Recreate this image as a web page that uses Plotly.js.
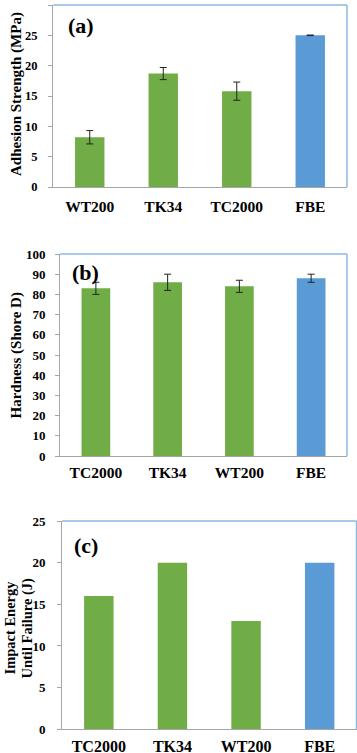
<!DOCTYPE html>
<html>
<head>
<meta charset="utf-8">
<script src="https://cdn.plot.ly/plotly-3.0.1.min.js"></script>
<style>
  html, body { margin: 0; padding: 0; background: #ffffff; }
  #chart { width: 357px; height: 753px; }
</style>
</head>
<body>
<div id="chart"></div>
<script>
(function () {
  "use strict";

  // (a) adhesion strength
  const catsA = ["WT200", "TK34", "TC2000", "FBE"];
  const adhesion = [8.2, 18.7, 15.8, 25.0];
  const adhesionErr = [1.1, 1.0, 1.5, 0.05];

  // (b) hardness
  const catsB = ["TC2000", "TK34", "WT200", "FBE"];
  const hardness = [83, 86, 84, 88];
  const hardnessErr = [3, 4, 3, 2];

  // (c) impact energy
  const catsC = ["TC2000", "TK34", "WT200", "FBE"];
  const impact = [16, 20, 13, 20];

  const GREEN = "#70ad47";
  const BLUE = "#5b9bd5";
  const AXIS = "#a6a6a6";
  const FRAME = "#8cb8e4";
  const SERIF = "Liberation Serif";

  const barColors = (cats) => cats.map((c) => (c === "FBE" ? BLUE : GREEN));

  function bars(cats, vals, errs, xa, ya) {
    const t = {
      type: "bar",
      x: cats,
      y: vals,
      xaxis: xa,
      yaxis: ya,
      width: 0.4,
      marker: { color: barColors(cats), line: { width: 0 } },
      hoverinfo: "x+y",
    };
    if (errs) {
      t.error_y = { type: "data", array: errs, visible: true, color: "#222222", thickness: 1, width: 3.5 };
    }
    return t;
  }

  const data = [
    bars(catsA, adhesion, adhesionErr, "x", "y"),
    bars(catsB, hardness, hardnessErr, "x2", "y2"),
    bars(catsC, impact, null, "x3", "y3"),
  ];

  function xAxis(domain, anchor, size, standoff) {
    return {
      domain: domain,
      anchor: anchor,
      showline: true,
      linecolor: AXIS,
      linewidth: 1,
      ticks: "",
      ticklabelstandoff: standoff,
      tickfont: { family: SERIF, size: size, color: "#000000", weight: "bold" },
      showgrid: false,
      zeroline: false,
      automargin: false,
      fixedrange: true,
    };
  }

  function yAxis(domain, anchor, range, dtick, size, standoff) {
    return {
      domain: domain,
      anchor: anchor,
      range: range,
      dtick: dtick,
      showline: true,
      linecolor: AXIS,
      linewidth: 1,
      ticks: "outside",
      ticklen: 4,
      tickcolor: AXIS,
      ticklabelstandoff: standoff,
      tickfont: { family: SERIF, size: size, color: "#000000", weight: "bold" },
      showgrid: false,
      zeroline: false,
      automargin: false,
      fixedrange: true,
    };
  }

  function frame(xd, yd) {
    return [
      { type: "line", xref: xd, yref: yd, x0: 0, x1: 1, y0: 1, y1: 1, line: { color: FRAME, width: 1.5 } },
      { type: "line", xref: xd, yref: yd, x0: 1, x1: 1, y0: 0, y1: 1, line: { color: FRAME, width: 1.5 } },
    ];
  }

  function label(text, x, y, size) {
    return {
      text: text, xref: "paper", yref: "paper", x: x / 357, y: 1 - y / 753,
      xanchor: "center", yanchor: "middle", showarrow: false,
      font: { family: SERIF, size: size, color: "#000000", weight: "bold" },
    };
  }

  function yTitle(text, x, y, size) {
    const a = label(text, x, y, size || 15);
    a.textangle = -90;
    a.borderpad = 0;
    return a;
  }

  const layout = {
    width: 357,
    height: 753,
    paper_bgcolor: "#ffffff",
    plot_bgcolor: "#ffffff",
    font: { family: SERIF },
    margin: { l: 0, r: 0, t: 0, b: 0 },
    showlegend: false,
    bargap: 0.6,
    xaxis: xAxis([53 / 357, 347 / 357], "y", 15.5, 5),
    yaxis: yAxis([1 - 187 / 753, 1 - 5 / 753], "x", [0, 30], 5, 12.5, 8),
    xaxis2: xAxis([60 / 357, 347 / 357], "y2", 15.5, 2),
    yaxis2: yAxis([1 - 456 / 753, 1 - 254 / 753], "x2", [0, 100], 10, 13, 7),
    xaxis3: xAxis([62 / 357, 356.5 / 357], "y3", 16, 2),
    yaxis3: yAxis([1 - 729.3 / 753, 1 - 521 / 753], "x3", [0, 25], 5, 13, 9),
    shapes: [].concat(frame("x domain", "y domain"), frame("x2 domain", "y2 domain"), frame("x3 domain", "y3 domain")),
    annotations: [
      label("(a)", 81, 26, 22),
      label("(b)", 85, 272, 22),
      label("(c)", 85.5, 545, 22),
      yTitle("Adhesion Strength (MPa)", 16, 94),
      yTitle("Hardness (Shore D)", 16, 355.5),
      yTitle("Impact Energy", 9.5, 628, 14.5),
      yTitle("Until Failure (J)", 26.5, 628, 14.5),
    ],
  };

  Plotly.newPlot("chart", data, layout, { displayModeBar: false, staticPlot: true });
})();
</script>
</body>
</html>
